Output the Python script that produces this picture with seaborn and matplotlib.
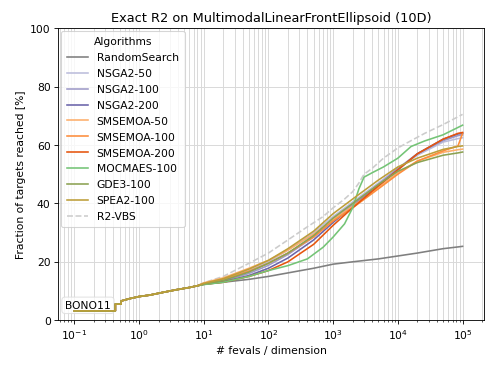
import matplotlib
matplotlib.use("Agg")
import matplotlib.pyplot as plt
import seaborn as sns

# Shared start (initial samples, identical for all algorithms)
x_start = [0.1, 0.43, 0.43, 0.53, 0.53, 0.72, 1.0, 1.46, 2.3, 3.7, 6.0, 8.0]
y_start = [3.2, 3.2, 5.5, 5.5, 6.6, 7.4, 8.1, 8.6, 9.5, 10.4, 11.2, 11.8]

# Evaluation grid for the main group of algorithms
x_grid = [10, 20, 50, 100, 200, 500, 1e3, 2e3, 5e3, 1e4, 2e4, 5e4, 8.5e4, 1e5]
y_random = [12.3, 13.0, 14.0, 15.0, 16.2, 17.8, 19.2, 20.0, 21.0, 22.0, 23.0, 24.5, 25.1, 25.3]
y_nsga2_50 = [12.6, 14.0, 17.0, 20.0, 24.0, 30.0, 35.5, 40.5, 47.0, 52.0, 56.5, 61.0, 62.2, 62.5]
y_nsga2_100 = [12.4, 13.5, 16.0, 18.8, 22.5, 28.5, 34.5, 39.5, 46.5, 52.0, 57.0, 61.5, 63.2, 63.5]
y_nsga2_200 = [12.3, 13.2, 15.3, 17.8, 21.3, 27.5, 33.5, 39.0, 46.0, 51.5, 57.0, 62.0, 63.8, 64.0]
y_sms_50 = [12.8, 14.5, 17.8, 20.5, 24.0, 29.5, 34.5, 39.0, 45.5, 50.5, 54.5, 57.5, 58.4, 58.6]
y_sms_100 = [12.5, 14.0, 16.8, 19.5, 23.0, 28.5, 34.0, 38.5, 45.0, 50.0, 54.5, 58.0, 59.7, 64.0]
y_sms_200 = [12.3, 13.0, 15.0, 17.0, 20.0, 26.0, 32.5, 38.5, 46.0, 51.5, 57.0, 62.0, 64.0, 64.3]
y_gde3 = [12.4, 13.6, 16.5, 19.5, 23.0, 29.0, 35.0, 40.0, 46.5, 51.0, 54.0, 56.5, 57.3, 57.6]
y_spea2 = [12.6, 14.2, 17.5, 20.5, 24.5, 30.5, 36.5, 41.5, 48.0, 52.5, 55.5, 58.5, 59.5, 59.7]

# Finer grid for MO-CMA-ES and the virtual best solver
x_fine = [10, 20, 50, 100, 200, 400, 700, 1000, 1500, 2000, 2500, 3000, 4000, 6000,
          1e4, 1.6e4, 2.6e4, 5e4, 1e5]
y_mocmaes = [12.2, 13.0, 15.0, 17.0, 18.7, 21.0, 25.0, 28.5, 33.0, 38.5, 45.0, 49.0,
             50.5, 52.5, 55.5, 59.5, 61.4, 63.5, 66.8]
y_vbs = [12.8, 15.0, 19.5, 23.0, 27.5, 32.0, 35.5, 38.5, 41.5, 44.0, 47.0, 50.0,
         52.0, 55.5, 59.0, 61.5, 64.0, 67.0, 70.5]

x_ticks = [1e-1, 1e0, 1e1, 1e2, 1e3, 1e4, 1e5]

series = [
    ("RandomSearch", x_grid, y_random, "#7f7f7f"),
    ("NSGA2-50", x_grid, y_nsga2_50, "#bcbddc"),
    ("NSGA2-100", x_grid, y_nsga2_100, "#9e9ac8"),
    ("NSGA2-200", x_grid, y_nsga2_200, "#6a64aa"),
    ("SMSEMOA-50", x_grid, y_sms_50, "#fdae6b"),
    ("SMSEMOA-100", x_grid, y_sms_100, "#fd8d3c"),
    ("SMSEMOA-200", x_grid, y_sms_200, "#e6550d"),
    ("MOCMAES-100", x_fine, y_mocmaes, "#74c476"),
    ("GDE3-100", x_grid, y_gde3, "#8ca252"),
    ("SPEA2-100", x_grid, y_spea2, "#bd9e39"),
]

fig, ax = plt.subplots(figsize=(6.4, 4.8), dpi=77)
fig.subplots_adjust(left=0.118, right=0.982, bottom=0.132, top=0.922)

for name, xs, ys, col in series:
    sns.lineplot(x=x_start + xs, y=y_start + ys, ax=ax, color=col, label=name,
                 linewidth=1.5, estimator=None, sort=False, zorder=2)

sns.lineplot(x=x_start + x_fine, y=y_start + y_vbs, ax=ax, color="#cccccc", label="R2-VBS",
             linewidth=1.5, linestyle="--", estimator=None, sort=False, zorder=1.5)

ax.set_xscale("log")
ax.set_xticks(x_ticks)
ax.set_xlim(10 ** -1.25, 10 ** 5.33)
ax.set_ylim(0, 100)
ax.grid(True, which="both", axis="x", color="#d9d9d9", linewidth=0.9)
ax.grid(True, which="major", axis="y", color="#d9d9d9", linewidth=0.9)
ax.set_axisbelow(True)

ax.set_xlabel("# fevals / dimension")
ax.set_ylabel("Fraction of targets reached [%]")
ax.set_title("Exact R2 on MultimodalLinearFrontEllipsoid (10D)")

ax.legend(title="Algorithms", loc="upper left", borderaxespad=0.25,
          labelspacing=0.55, borderpad=0.55)
ax.text(0.07, 0.051, "BONO11", transform=ax.transAxes, ha="center", va="center", zorder=1,
        bbox=dict(boxstyle="round", facecolor="white", edgecolor="#dddddd", alpha=0.8))

plt.savefig("out.png", dpi=77)
